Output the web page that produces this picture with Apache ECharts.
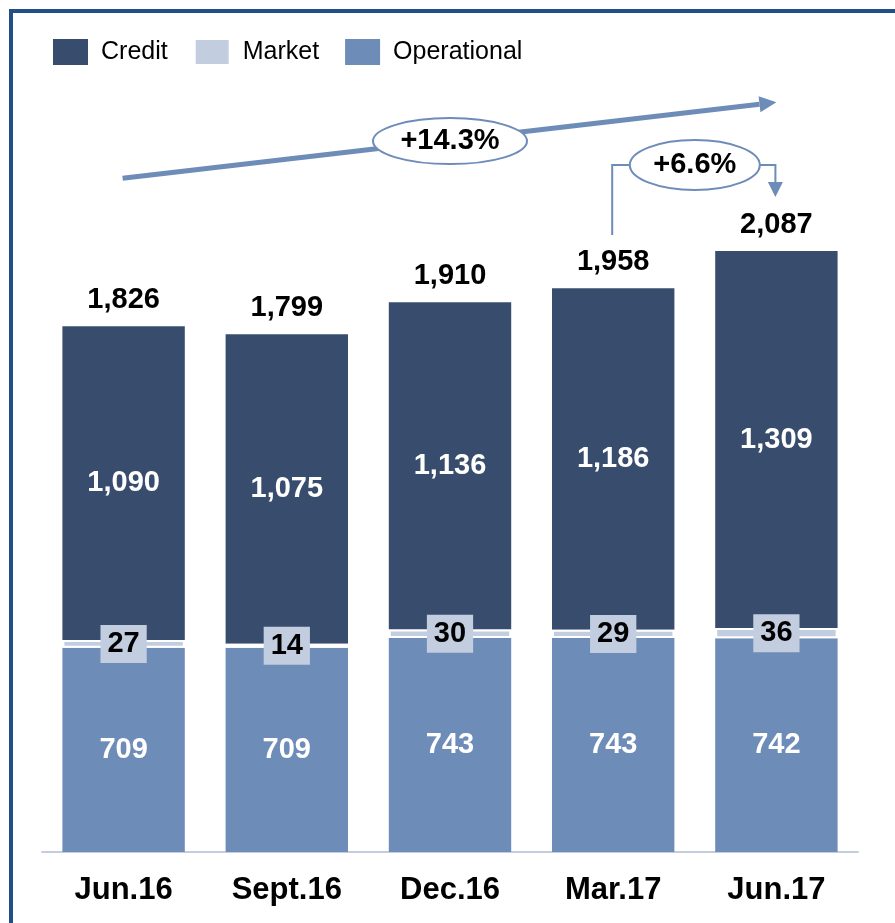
<!DOCTYPE html>
<html>
<head>
<meta charset="utf-8">
<script src="https://cdn.jsdelivr.net/npm/echarts@6/dist/echarts.min.js"></script>
<style>
  html, body { margin: 0; padding: 0; background: #fff; }
  #chart { width: 895px; height: 923px; }
</style>
</head>
<body>
<div id="chart"></div>
<script>
const categories = ['Jun.16', 'Sept.16', 'Dec.16', 'Mar.17', 'Jun.17'];
const operational = [709, 709, 743, 743, 742];
const market = [27, 14, 30, 29, 36];
const credit = [1090, 1075, 1136, 1186, 1309];
const totals = [1826, 1799, 1910, 1958, 2087];
const growthLabels = ['+14.3%', '+6.6%'];

const FONT = '"Liberation Sans", Arial, sans-serif';
const C_CREDIT = '#384d6d';
const C_MARKET = '#c3cde0';
const C_OPER = '#6e8cb8';
const fmt = v => v.toLocaleString('en-US');

const chart = echarts.init(document.getElementById('chart'), null, { renderer: 'canvas' });

const option = {
  animation: false,
  backgroundColor: '#fff',
  legend: {
    data: ['Credit', 'Market', 'Operational'],
    left: 53, top: 38, padding: 0,
    icon: 'rect',
    itemWidth: 35, itemHeight: 26, itemGap: 26,
    selectedMode: false,
    textStyle: { fontFamily: FONT, fontSize: 25, color: '#000', padding: [0, 0, 0, 8] }
  },
  grid: { left: 42, right: 37, top: 17, bottom: 71 },
  xAxis: {
    type: 'category',
    data: categories,
    axisLine: { lineStyle: { color: '#c3cde0', width: 2 } },
    axisTick: { show: false },
    axisLabel: { fontFamily: FONT, fontSize: 31, fontWeight: 'bold', color: '#000', margin: 23 }
  },
  yAxis: { type: 'value', min: 0, max: 2900, show: false, splitLine: { show: false } },
  series: [
    {
      name: 'Operational', type: 'bar', stack: 'risk', data: operational, barWidth: '75%',
      itemStyle: { color: C_OPER },
      label: { show: true, position: 'inside', color: '#fff', fontFamily: FONT, fontSize: 29, fontWeight: 'bold', formatter: p => fmt(p.value) }
    },
    {
      name: 'Market', type: 'bar', stack: 'risk', data: market, barWidth: '75%',
      itemStyle: { color: C_MARKET, borderColor: '#fff', borderWidth: 2 },
      z: 3,
      label: { show: true, position: 'inside', color: '#000', fontFamily: FONT, fontSize: 29, fontWeight: 'bold',
        backgroundColor: C_MARKET, padding: [5, 7, 4, 7], formatter: p => fmt(p.value) }
    },
    {
      name: 'Credit', type: 'bar', stack: 'risk', data: credit, barWidth: '75%',
      itemStyle: { color: C_CREDIT },
      label: { show: true, position: 'inside', color: '#fff', fontFamily: FONT, fontSize: 29, fontWeight: 'bold', formatter: p => fmt(p.value) }
    },
    {
      name: 'Total', type: 'bar', data: totals, barWidth: '75%', barGap: '-100%', silent: true, z: 1,
      itemStyle: { color: 'rgba(0,0,0,0)' },
      label: { show: true, position: 'top', distance: 12, color: '#000', fontFamily: FONT, fontSize: 29, fontWeight: 'bold', formatter: p => fmt(p.value) }
    }
  ]
};
chart.setOption(option);

// Annotation anchors expressed in data space
const px = (i, v) => chart.convertToPixel({ xAxisIndex: 0, yAxisIndex: 0 }, [i, v]);
const LINE = '#6e8cb8';

const a0 = px(0, 2340), a1 = px(4, 2604);
const dx = a1[0] - a0[0], dy = a1[1] - a0[1];
const len = Math.hypot(dx, dy), ux = dx / len, uy = dy / len;
const headL = 17, headW = 8;
const base = [a1[0] - ux * headL, a1[1] - uy * headL];
const e1 = px(2, 2469);

const m3 = px(3, 2143), m4 = px(4, 2275);
const e2y = px(3, 2386)[1];
const e2x = (px(3, 0)[0] + px(4, 0)[0]) / 2;
const rx2 = 65, ry2 = 25;

chart.setOption({
  graphic: [
    { type: 'rect', shape: { x: 9, y: 9, width: 886, height: 4 }, style: { fill: '#234e86' }, z: 100 },
    { type: 'rect', shape: { x: 9, y: 9, width: 4, height: 914 }, style: { fill: '#234e86' }, z: 100 },
    { type: 'line', shape: { x1: a0[0] - 1, y1: a0[1], x2: base[0], y2: base[1] }, style: { stroke: LINE, lineWidth: 5 }, z: 50 },
    { type: 'polygon', shape: { points: [a1, [base[0] - uy * headW, base[1] + ux * headW], [base[0] + uy * headW, base[1] - ux * headW]] }, style: { fill: LINE }, z: 50 },
    { type: 'ellipse', shape: { cx: e1[0], cy: e1[1], rx: 77, ry: 23 }, style: { fill: '#fff', stroke: LINE, lineWidth: 2 }, z: 51 },
    { type: 'text', x: e1[0], y: e1[1], style: { text: growthLabels[0], font: 'bold 29px ' + FONT, fill: '#000', align: 'center', verticalAlign: 'middle' }, z: 52 },
    { type: 'polyline', shape: { points: [[m3[0] - 1, m3[1]], [m3[0] - 1, e2y], [e2x - rx2, e2y]] }, style: { stroke: LINE, lineWidth: 2, fill: null }, z: 50 },
    { type: 'polyline', shape: { points: [[e2x + rx2, e2y], [m4[0] - 1, e2y], [m4[0] - 1, m4[1] - 15]] }, style: { stroke: LINE, lineWidth: 2, fill: null }, z: 50 },
    { type: 'polygon', shape: { points: [[m4[0] - 1, m4[1]], [m4[0] - 8.5, m4[1] - 15], [m4[0] + 6.5, m4[1] - 15]] }, style: { fill: LINE }, z: 50 },
    { type: 'ellipse', shape: { cx: e2x, cy: e2y, rx: rx2, ry: ry2 }, style: { fill: '#fff', stroke: LINE, lineWidth: 2 }, z: 51 },
    { type: 'text', x: e2x, y: e2y, style: { text: growthLabels[1], font: 'bold 29px ' + FONT, fill: '#000', align: 'center', verticalAlign: 'middle' }, z: 52 }
  ]
});
</script>
</body>
</html>
